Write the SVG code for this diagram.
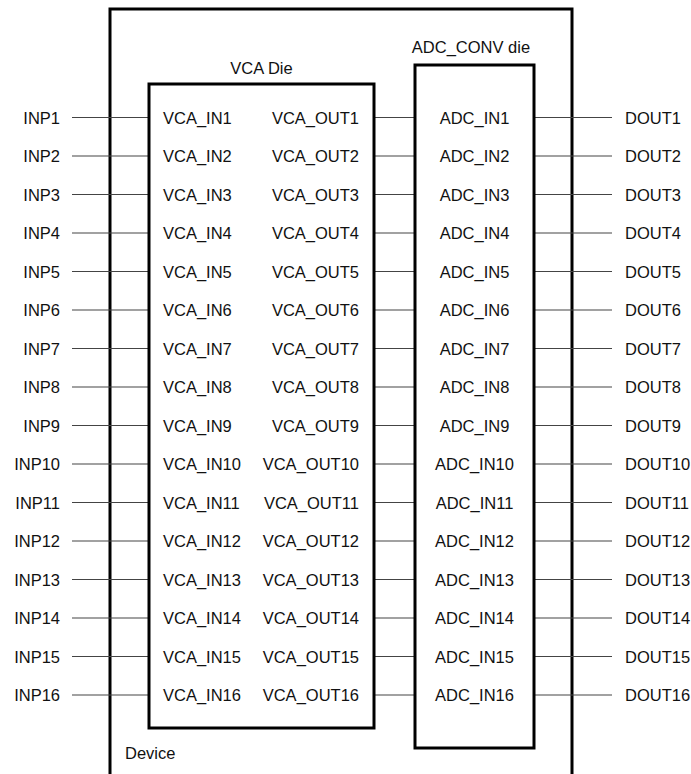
<svg xmlns="http://www.w3.org/2000/svg" width="691" height="774" viewBox="0 0 691 774">
<style>
text{font-family:"Liberation Sans",Arial,sans-serif;font-size:16.5px;fill:#111;dominant-baseline:central}
.box{fill:none;stroke:#000;stroke-width:3}
.w{fill:none;stroke:#444;stroke-width:1.2}
.e{text-anchor:end}
.m{text-anchor:middle}
</style>
<rect width="691" height="774" fill="#fff"/>
<g id="device">
<path class="box" d="M110,780 V9 H572 V780"/>
<text x="125" y="753">Device</text>
</g>
<g id="connectors">
<path id="wires" class="w" d="M72,117.5H149M72,156H149M72,194.5H149M72,233H149M72,271.5H149M72,310H149M72,348.5H149M72,387H149M72,425.5H149M72,464H149M72,502.5H149M72,541H149M72,579.5H149M72,618H149M72,656.5H149M72,695H149
M374,117.5H415M374,156H415M374,194.5H415M374,233H415M374,271.5H415M374,310H415M374,348.5H415M374,387H415M374,425.5H415M374,464H415M374,502.5H415M374,541H415M374,579.5H415M374,618H415M374,656.5H415M374,695H415
M534,117.5H612M534,156H612M534,194.5H612M534,233H612M534,271.5H612M534,310H612M534,348.5H612M534,387H612M534,425.5H612M534,464H612M534,502.5H612M534,541H612M534,579.5H612M534,618H612M534,656.5H612M534,695H612"/>
</g>
<g id="inputs">
<text class="e" x="60" y="117.5">INP1</text>
<text class="e" x="60" y="156">INP2</text>
<text class="e" x="60" y="194.5">INP3</text>
<text class="e" x="60" y="233">INP4</text>
<text class="e" x="60" y="271.5">INP5</text>
<text class="e" x="60" y="310">INP6</text>
<text class="e" x="60" y="348.5">INP7</text>
<text class="e" x="60" y="387">INP8</text>
<text class="e" x="60" y="425.5">INP9</text>
<text class="e" x="60" y="464">INP10</text>
<text class="e" x="60" y="502.5">INP11</text>
<text class="e" x="60" y="541">INP12</text>
<text class="e" x="60" y="579.5">INP13</text>
<text class="e" x="60" y="618">INP14</text>
<text class="e" x="60" y="656.5">INP15</text>
<text class="e" x="60" y="695">INP16</text>
</g>
<g id="vca-die">
<rect class="box" x="149" y="84" width="225" height="644"/>
<text class="m" x="261.5" y="68">VCA Die</text>
<text x="163" y="117.5">VCA_IN1</text>
<text x="163" y="156">VCA_IN2</text>
<text x="163" y="194.5">VCA_IN3</text>
<text x="163" y="233">VCA_IN4</text>
<text x="163" y="271.5">VCA_IN5</text>
<text x="163" y="310">VCA_IN6</text>
<text x="163" y="348.5">VCA_IN7</text>
<text x="163" y="387">VCA_IN8</text>
<text x="163" y="425.5">VCA_IN9</text>
<text x="163" y="464">VCA_IN10</text>
<text x="163" y="502.5">VCA_IN11</text>
<text x="163" y="541">VCA_IN12</text>
<text x="163" y="579.5">VCA_IN13</text>
<text x="163" y="618">VCA_IN14</text>
<text x="163" y="656.5">VCA_IN15</text>
<text x="163" y="695">VCA_IN16</text>
<text class="e" x="359" y="117.5">VCA_OUT1</text>
<text class="e" x="359" y="156">VCA_OUT2</text>
<text class="e" x="359" y="194.5">VCA_OUT3</text>
<text class="e" x="359" y="233">VCA_OUT4</text>
<text class="e" x="359" y="271.5">VCA_OUT5</text>
<text class="e" x="359" y="310">VCA_OUT6</text>
<text class="e" x="359" y="348.5">VCA_OUT7</text>
<text class="e" x="359" y="387">VCA_OUT8</text>
<text class="e" x="359" y="425.5">VCA_OUT9</text>
<text class="e" x="359" y="464">VCA_OUT10</text>
<text class="e" x="359" y="502.5">VCA_OUT11</text>
<text class="e" x="359" y="541">VCA_OUT12</text>
<text class="e" x="359" y="579.5">VCA_OUT13</text>
<text class="e" x="359" y="618">VCA_OUT14</text>
<text class="e" x="359" y="656.5">VCA_OUT15</text>
<text class="e" x="359" y="695">VCA_OUT16</text>
</g>
<g id="adc-die">
<rect class="box" x="415" y="65" width="119" height="683"/>
<text class="m" x="471" y="47">ADC_CONV die</text>
<text class="m" x="474.5" y="117.5">ADC_IN1</text>
<text class="m" x="474.5" y="156">ADC_IN2</text>
<text class="m" x="474.5" y="194.5">ADC_IN3</text>
<text class="m" x="474.5" y="233">ADC_IN4</text>
<text class="m" x="474.5" y="271.5">ADC_IN5</text>
<text class="m" x="474.5" y="310">ADC_IN6</text>
<text class="m" x="474.5" y="348.5">ADC_IN7</text>
<text class="m" x="474.5" y="387">ADC_IN8</text>
<text class="m" x="474.5" y="425.5">ADC_IN9</text>
<text class="m" x="474.5" y="464">ADC_IN10</text>
<text class="m" x="474.5" y="502.5">ADC_IN11</text>
<text class="m" x="474.5" y="541">ADC_IN12</text>
<text class="m" x="474.5" y="579.5">ADC_IN13</text>
<text class="m" x="474.5" y="618">ADC_IN14</text>
<text class="m" x="474.5" y="656.5">ADC_IN15</text>
<text class="m" x="474.5" y="695">ADC_IN16</text>
</g>
<g id="outputs">
<text x="625" y="117.5">DOUT1</text>
<text x="625" y="156">DOUT2</text>
<text x="625" y="194.5">DOUT3</text>
<text x="625" y="233">DOUT4</text>
<text x="625" y="271.5">DOUT5</text>
<text x="625" y="310">DOUT6</text>
<text x="625" y="348.5">DOUT7</text>
<text x="625" y="387">DOUT8</text>
<text x="625" y="425.5">DOUT9</text>
<text x="625" y="464">DOUT10</text>
<text x="625" y="502.5">DOUT11</text>
<text x="625" y="541">DOUT12</text>
<text x="625" y="579.5">DOUT13</text>
<text x="625" y="618">DOUT14</text>
<text x="625" y="656.5">DOUT15</text>
<text x="625" y="695">DOUT16</text>
</g>
</svg>
